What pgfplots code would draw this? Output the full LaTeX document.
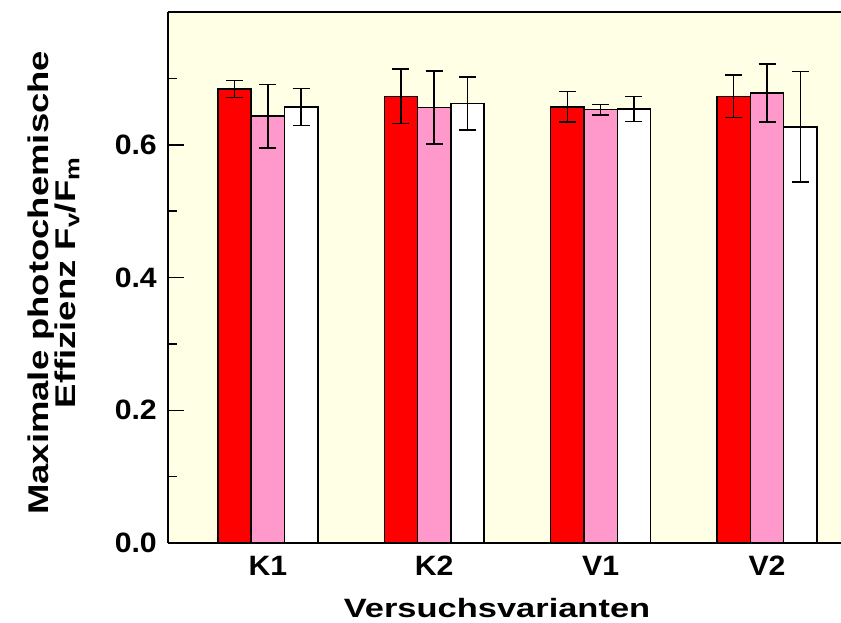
\documentclass[border=0pt]{standalone}
\usepackage{fontspec}
\setmainfont{Liberation Sans}
\newfontfamily\tickfont{Liberation Sans}[FakeStretch=1.08]
\newfontfamily\labfont{Liberation Sans}[FakeStretch=1.28]
\newfontfamily\xlabfont{Liberation Sans}[FakeStretch=1.3]
\usepackage{pgfplots}
\pgfplotsset{compat=1.18}
\usepackage{pgfplotstable}
\definecolor{bgyellow}{RGB}{255,255,230}
\definecolor{pinkbar}{RGB}{255,153,204}

\pgfplotstableread{
x y e
0 0.684 0.013
1 0.673 0.041
2 0.657 0.023
3 0.673 0.032
}\datared
\pgfplotstableread{
x y e
0 0.643 0.048
1 0.656 0.055
2 0.653 0.008
3 0.678 0.044
}\datapink
\pgfplotstableread{
x y e
0 0.657 0.028
1 0.662 0.040
2 0.654 0.019
3 0.627 0.083
}\datawhite

\begin{document}
\begin{tikzpicture}
\begin{axis}[
  at={(0,0)}, anchor=south west,
  scale only axis, width=673pt, height=531pt,
  xmin=-0.6, xmax=3.4445, ymin=0, ymax=0.8,
  axis background/.style={fill=bgyellow},
  axis y line*=left, axis x line*=box,
  axis line style={line width=2pt, black},
  ybar, bar width=33.3pt,
  xtick={0,1,2,3}, xticklabels={K1,K2,V1,V2},
  xtick style={draw=none},
  ytick={0,0.2,0.4,0.6}, yticklabels={0.0,0.2,0.4,0.6},
  minor ytick={0.1,0.3,0.5,0.7},
  ytick pos=left, tick align=inside,
  major tick length=16pt, minor tick length=9pt,
  every tick/.style={black, line width=1.5pt},
  tick label style={font=\tickfont\bfseries\fontsize{28}{28}\selectfont},
  xticklabel style={anchor=north, inner sep=0pt, yshift=-13pt},
  yticklabel style={anchor=east, inner sep=0pt, xshift=-11pt},
  xlabel={Versuchsvarianten},
  xlabel style={at={(axis description cs:0.4889,-0.1412)}, anchor=base,
    font=\xlabfont\bfseries\fontsize{26.5}{26.5}\selectfont},
  ylabel={Maximale photochemische\\Effizienz F\textsubscript{v}/F\textsubscript{m}},
  ylabel style={at={(axis description cs:-0.1263,0.49)}, anchor=south, align=center,
    font=\labfont\bfseries\fontsize{28.5}{23.5}\selectfont},
  error bars/error bar style={line width=1.5pt, black},
  error bars/error mark options={rotate=90, mark size=8.5pt, line width=1.5pt, black},
]
\addplot[fill=red, draw=black, line width=1.5pt, bar shift=-33.3pt,
  error bars/.cd, y dir=both, y explicit]
  table[x=x, y=y, y error=e]{\datared};
\addplot[fill=pinkbar, draw=black, line width=1.5pt, bar shift=0pt,
  error bars/.cd, y dir=both, y explicit]
  table[x=x, y=y, y error=e]{\datapink};
\addplot[fill=white, draw=black, line width=1.5pt, bar shift=33.3pt,
  error bars/.cd, y dir=both, y explicit]
  table[x=x, y=y, y error=e]{\datawhite};
\end{axis}
\pgfresetboundingbox
\useasboundingbox (-168pt,-79pt) rectangle (673pt,543pt);
\end{tikzpicture}
\end{document}
